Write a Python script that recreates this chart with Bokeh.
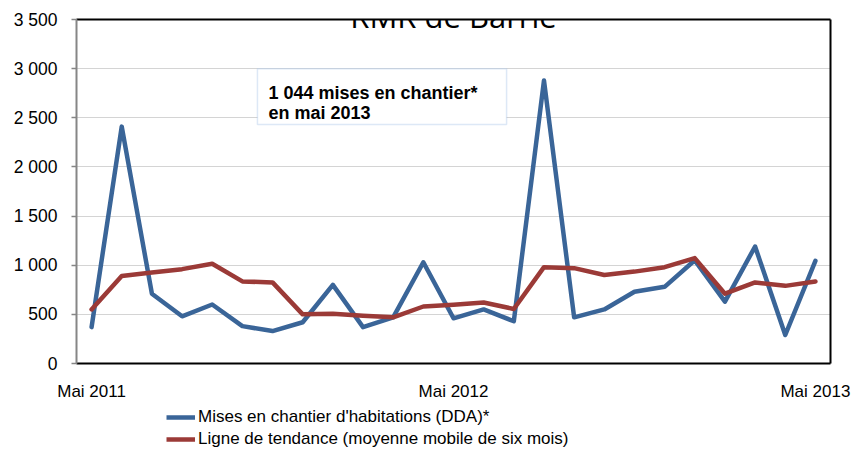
from bokeh.plotting import figure
from bokeh.layouts import column
from bokeh.models import (Range1d, FixedTicker, LinearAxis, Label, BoxAnnotation,
                          Legend, LegendItem, ColumnDataSource)
from bokeh.embed import file_html
from bokeh.resources import INLINE

# ---------------- data ----------------
month_index = list(range(25))  # Mai 2011 .. Mai 2013
starts = [370, 2410, 710, 480, 600, 380, 330, 420, 800, 370, 470, 1030,
          460, 550, 430, 2880, 470, 550, 730, 780, 1050, 630, 1190, 290, 1044]
trend = [550, 890, 925, 960, 1015, 835, 825, 500, 505, 485, 470, 580,
         598, 620, 555, 980, 970, 900, 935, 980, 1072, 710, 825, 790, 835]
x_tick_pos = [0, 12, 24]
x_tick_labels = ["Mai 2011", "Mai 2012", "Mai 2013"]
y_ticks = [0, 500, 1000, 1500, 2000, 2500, 3000, 3500]
y_tick_labels = ["0", "500", "1 000", "1 500", "2 000", "2 500", "3 000", "3 500"]
title_text = "RMR de Barrie"
note_lines = ["1 044 mises en chantier*", "en mai 2013"]
series_names = ["Mises en chantier d'habitations (DDA)*",
                "Ligne de tendance (moyenne mobile de six mois)"]

# ---------------- layout ----------------
W = 852
H1, H2 = 405, 44
FL, FT, FW, FH = 76, 19, 754, 344
BLUE = "#3a6598"
RED = "#9b3a37"
FONT = "Liberation Sans"

src = ColumnDataSource(dict(x=month_index, starts=starts, trend=trend))

p = figure(width=W, height=H1, output_backend="svg", toolbar_location=None,
           x_range=Range1d(-0.5, 24.5), y_range=Range1d(0, 3500),
           min_border_left=FL, min_border_right=W - FL - FW,
           min_border_top=FT, min_border_bottom=H1 - FT - FH)
p.title.visible = False
p.outline_line_color = None
p.background_fill_color = "white"
p.border_fill_color = "white"

r1 = p.line("x", "starts", source=src, line_color=BLUE, line_width=4.5,
            line_join="round", line_cap="round")
r2 = p.line("x", "trend", source=src, line_color=RED, line_width=4.5,
            line_join="round", line_cap="round")

# x axis
xa = p.xaxis[0]
xa.ticker = FixedTicker(ticks=x_tick_pos)
xa.major_label_overrides = {k: v for k, v in zip(x_tick_pos, x_tick_labels)}
xa.major_tick_line_color = None
xa.minor_tick_line_color = None
xa.major_tick_out = 0
xa.major_tick_in = 0
xa.axis_line_color = "black"
xa.axis_line_width = 2
xa.major_label_standoff = 18
xa.major_label_text_font = FONT
xa.major_label_text_font_size = "17px"
xa.major_label_text_color = "black"

# y axis
ya = p.yaxis[0]
ya.ticker = FixedTicker(ticks=y_ticks)
ya.major_label_overrides = {k: v for k, v in zip(y_ticks, y_tick_labels)}
ya.axis_line_color = "#868686"
ya.axis_line_width = 2
ya.major_tick_line_color = "#868686"
ya.major_tick_line_width = 1.5
ya.major_tick_out = 5
ya.major_tick_in = 0
ya.minor_tick_line_color = None
ya.major_label_standoff = 14
ya.major_label_text_font = FONT
ya.major_label_text_font_size = "17.5px"
ya.major_label_text_color = "black"

p.xgrid.visible = False
p.ygrid.ticker = FixedTicker(ticks=y_ticks)
p.ygrid.grid_line_color = "#d4d4d4"
p.ygrid.grid_line_width = 1

# frame border (top/right) as bare axes
for side in ("above", "right"):
    ax = LinearAxis(ticker=FixedTicker(ticks=[]), axis_line_color="black",
                    axis_line_width=2, major_tick_line_color=None,
                    minor_tick_line_color=None, major_tick_out=0, major_tick_in=0,
                    major_label_standoff=0, major_label_text_font_size="0px")
    p.add_layout(ax, side)

# title (partly cut off at the top, as in the reference)
p.add_layout(Label(x=377, y=348, x_units="screen", y_units="screen", text=title_text,
                   text_align="center", text_baseline="alphabetic",
                   text_font="Open Sans", text_font_size="31px", text_color="black"))

# note box
p.add_layout(BoxAnnotation(left=5.5, right=13.76, top=3000, bottom=2432,
                           fill_color="white", fill_alpha=1.0,
                           line_color="#8db3e2", line_width=1.5))
p.add_layout(Label(x=192, y=271, x_units="screen", y_units="screen", text=note_lines[0],
                   text_align="left", text_baseline="alphabetic", text_font=FONT,
                   text_font_style="bold", text_font_size="18px", text_color="black"))
p.add_layout(Label(x=192, y=251, x_units="screen", y_units="screen", text=note_lines[1],
                   text_align="left", text_baseline="alphabetic", text_font=FONT,
                   text_font_style="bold", text_font_size="18px", text_color="black"))

# legend strip below the chart (its frame is aligned with the main frame)
p2 = figure(width=W, height=H2, output_backend="svg", toolbar_location=None,
            x_range=Range1d(0, 1), y_range=Range1d(0, 1),
            x_axis_type=None, y_axis_type=None,
            min_border_left=0, min_border_right=0, min_border_top=0, min_border_bottom=0)
p2.title.visible = False
p2.outline_line_color = None
p2.xgrid.visible = False
p2.ygrid.visible = False
# same series, out of this strip's view: only their legend keys show
k1 = p2.line("x", "starts", source=src, line_color=BLUE, line_width=4.5)
k2 = p2.line("x", "trend", source=src, line_color=RED, line_width=4.5)
legend = Legend(items=[LegendItem(label=series_names[0], renderers=[k1]),
                       LegendItem(label=series_names[1], renderers=[k2])],
                location=(90, 0), orientation="vertical", padding=0, margin=0,
                spacing=2, glyph_width=29, glyph_height=20, label_height=20,
                label_standoff=3, label_text_font=FONT, label_text_font_size="17px",
                label_text_color="black", border_line_color=None,
                background_fill_alpha=0)
p2.add_layout(legend, "center")

layout = column(p, p2, spacing=0)
open("out.html", "w").write(file_html(layout, INLINE))
